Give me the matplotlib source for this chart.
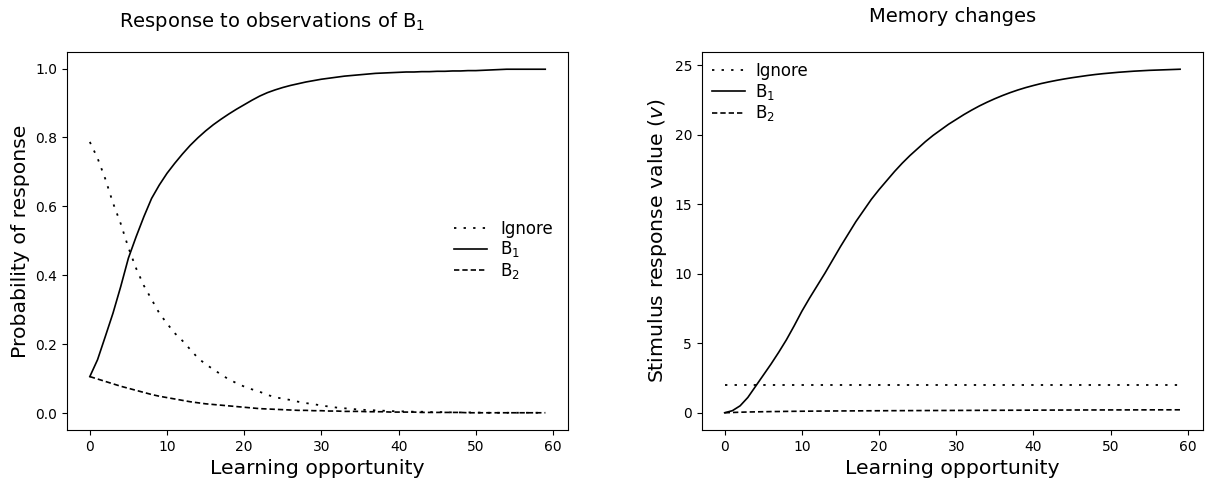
import matplotlib
matplotlib.use("Agg")
import matplotlib.pyplot as plt

# learning opportunities 0..59
trials = list(range(60))

# Response probabilities (left panel)
p_ignore = [0.787, 0.74, 0.68, 0.61, 0.55, 0.48, 0.42, 0.37, 0.33, 0.29,
            0.26, 0.232, 0.21, 0.185, 0.16, 0.142, 0.127, 0.112, 0.098, 0.087,
            0.077, 0.069, 0.062, 0.053, 0.046, 0.042, 0.038, 0.033, 0.029, 0.026,
            0.022, 0.019, 0.016, 0.014, 0.012, 0.010, 0.009, 0.008, 0.007, 0.006,
            0.005, 0.005, 0.004, 0.004, 0.003, 0.003, 0.003, 0.002, 0.002, 0.002,
            0.002, 0.001, 0.001, 0.001, 0.001, 0.001, 0.001, 0.001, 0.001, 0.001]
p_b1 = [0.106, 0.155, 0.222, 0.29, 0.367, 0.45, 0.512, 0.57, 0.623, 0.662,
        0.696, 0.725, 0.752, 0.777, 0.799, 0.819, 0.837, 0.853, 0.868, 0.882,
        0.895, 0.908, 0.92, 0.93, 0.938, 0.945, 0.951, 0.956, 0.961, 0.965,
        0.969, 0.972, 0.975, 0.978, 0.980, 0.982, 0.984, 0.986, 0.987, 0.988,
        0.989, 0.990, 0.990, 0.991, 0.991, 0.992, 0.992, 0.993, 0.993, 0.994,
        0.994, 0.995, 0.996, 0.997, 0.998, 0.998, 0.998, 0.998, 0.998, 0.998]
p_b2 = [0.106, 0.099, 0.092, 0.085, 0.078, 0.072, 0.066, 0.060, 0.054, 0.049,
        0.045, 0.041, 0.037, 0.033, 0.030, 0.027, 0.025, 0.023, 0.021, 0.019,
        0.017, 0.015, 0.013, 0.012, 0.011, 0.010, 0.009, 0.008, 0.008, 0.007,
        0.007, 0.006, 0.006, 0.005, 0.005, 0.005, 0.004, 0.004, 0.004, 0.003,
        0.003, 0.003, 0.003, 0.002, 0.002, 0.002, 0.002, 0.002, 0.002, 0.001,
        0.001, 0.001, 0.001, 0.001, 0.001, 0.001, 0.001, 0.001, 0.001, 0.001]

# Stimulus response values (right panel)
v_ignore = [2.0] * 60
v_b1 = [0.0, 0.15, 0.5, 1.1, 1.9, 2.7, 3.5, 4.35, 5.25, 6.25,
        7.3, 8.25, 9.15, 10.05, 11.0, 11.95, 12.85, 13.75, 14.55, 15.35,
        16.05, 16.7, 17.35, 17.95, 18.5, 19.0, 19.5, 19.95, 20.35, 20.75,
        21.1, 21.45, 21.77, 22.07, 22.34, 22.59, 22.82, 23.03, 23.22, 23.39,
        23.54, 23.68, 23.8, 23.91, 24.01, 24.1, 24.18, 24.26, 24.33, 24.39,
        24.44, 24.49, 24.53, 24.57, 24.6, 24.63, 24.65, 24.67, 24.69, 24.71]
v_b2 = [0.0, 0.02, 0.04, 0.055, 0.065, 0.075, 0.085, 0.09, 0.1, 0.105,
        0.11, 0.115, 0.12, 0.125, 0.128, 0.131, 0.134, 0.137, 0.14, 0.143,
        0.145, 0.148, 0.15, 0.153, 0.155, 0.157, 0.16, 0.162, 0.164, 0.166,
        0.168, 0.17, 0.172, 0.174, 0.176, 0.178, 0.18, 0.182, 0.184, 0.186,
        0.188, 0.19, 0.192, 0.194, 0.196, 0.198, 0.2, 0.201, 0.202, 0.203,
        0.204, 0.205, 0.206, 0.207, 0.208, 0.209, 0.21, 0.211, 0.212, 0.213]

labels = ["Ignore", "B$_1$", "B$_2$"]
styles = [(0, (1.3, 4)), "-", (0, (3.2, 1.8))]
widths = [1.3, 1.2, 1.2]

fig = plt.figure(figsize=(12.06, 4.82), dpi=100)
ax1 = fig.add_axes([0.0556, 0.108, 0.4154, 0.784])
ax2 = fig.add_axes([0.582, 0.108, 0.4154, 0.784])

for ys, ls, lw, lab in zip([p_ignore, p_b1, p_b2], styles, widths, labels):
    ax1.plot(trials, ys, color="black", linestyle=ls, linewidth=lw, label=lab)
ax1.set_title("Response to observations of B$_1$", fontsize=14, pad=18, x=0.41)
ax1.set_xlabel("Learning opportunity", fontsize=14.7)
ax1.set_ylabel("Probability of response", fontsize=14.7)
ax1.legend(loc="center right", bbox_to_anchor=(1, 0.475), frameon=False,
           fontsize=12, labelspacing=0.1)

for ys, ls, lw, lab in zip([v_ignore, v_b1, v_b2], styles, widths, labels):
    ax2.plot(trials, ys, color="black", linestyle=ls, linewidth=lw, label=lab)
ax2.set_title("Memory changes", fontsize=14, pad=22)
ax2.set_xlabel("Learning opportunity", fontsize=14.7)
ax2.set_ylabel("Stimulus response value ($v$)", fontsize=14.7)
ax2.legend(loc="upper left", frameon=False, fontsize=12, labelspacing=0.1,
           borderaxespad=0.2, handletextpad=0.6)

fig.savefig("out.png", dpi=100)
